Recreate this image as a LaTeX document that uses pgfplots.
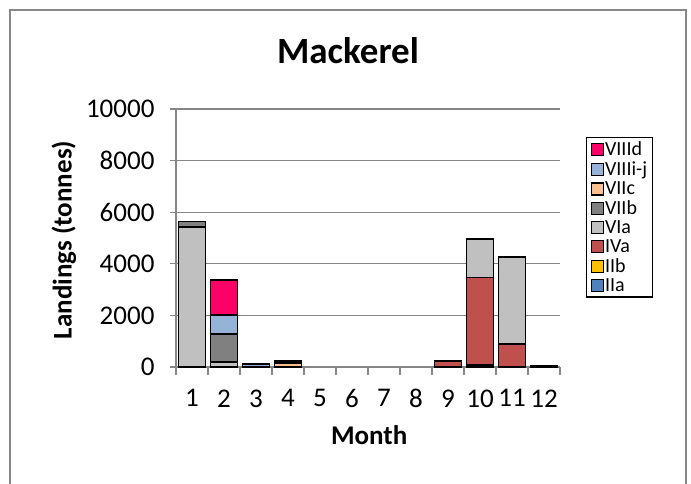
\documentclass[border=0pt]{standalone}
\usepackage{fontspec}
\setmainfont{Carlito}
\usepackage{pgfplots}
\pgfplotsset{compat=1.18}
\definecolor{cIIa}{HTML}{4F81BD}
\definecolor{cIIb}{HTML}{FFC000}
\definecolor{cIVa}{HTML}{C0504D}
\definecolor{cVIa}{HTML}{C0C0C0}
\definecolor{cVIIb}{HTML}{808080}
\definecolor{cVIIc}{HTML}{FAC090}
\definecolor{cVIIIij}{HTML}{95B3D7}
\definecolor{cVIIId}{HTML}{FF0066}
\definecolor{gridgray}{HTML}{868686}
\begin{document}
\begin{tikzpicture}
\path[use as bounding box] (0pt,0pt) rectangle (691pt,-484pt);
\draw[color=gridgray, line width=1.2pt] (10pt,-490pt) -- (10pt,-10pt) -- (686pt,-10pt) -- (686pt,-490pt);
\node[font=\bfseries\fontsize{37}{44}\selectfont, anchor=base] at (348pt,-64pt) {Mackerel};
\begin{axis}[
  at={(176pt,-367pt)}, anchor=south west,
  scale only axis, width=384pt, height=258pt,
  xmin=0.5, xmax=12.5, ymin=0, ymax=10000,
  axis lines*=left,
  axis line style={color=gridgray, line width=1.2pt},
  xtick={1,...,12},
  minor xtick={0.5,1.5,...,12.5},
  major x tick style={draw=none},
  minor x tick style={color=gridgray, line width=1.2pt},
  minor tick length=8pt,
  ytick={0,2000,...,10000},
  y tick style={color=gridgray, line width=1.2pt},
  major tick length=6pt,
  tick align=outside,
  ymajorgrids,
  major grid style={color=gridgray, line width=1.2pt},
  scaled ticks=false,
  /pgf/number format/1000 sep={},
  /pgf/number format/assume math mode=true,
  tick label style={font=\fontsize{27}{32}\selectfont},
  yticklabel style={xshift=-12pt},
  xticklabel style={yshift=-13pt},
  ylabel={\bfseries Landings (tonnes)},
  ylabel style={at={(rel axis cs:-0.2917,0.492)}, anchor=center, font=\fontsize{27}{32}\selectfont},
  xlabel={\bfseries Month},
  xlabel style={at={(rel axis cs:0.503,-0.2636)}, anchor=center, font=\fontsize{27}{32}\selectfont},
  ybar stacked,
  bar width=27pt,
  every axis plot/.append style={draw=black, line width=1.5pt},
  reverse legend,
  legend cell align=left,
  legend style={at={(rel axis cs:1.068,0.891)}, anchor=north west, draw=black, line width=1.2pt,
    font=\fontsize{20}{22}\selectfont, inner xsep=4pt, inner ysep=3pt, row sep=2.2pt,
    nodes={inner sep=1.2pt}},
  legend image code/.code={\draw[#1, line width=1.2pt] (0pt,-6pt) rectangle (12pt,6pt);},
]
% months 5-8 carry no landings
\addplot[fill=cIIa] coordinates {(1,0) (2,0) (3,0) (4,0) (9,0) (10,80) (11,0) (12,0)};
\addplot[fill=cIIb] coordinates {(1,0) (2,0) (3,0) (4,0) (9,0) (10,0) (11,0) (12,0)};
\addplot[fill=cIVa] coordinates {(1,0) (2,0) (3,0) (4,0) (9,240) (10,3380) (11,893) (12,0)};
\addplot[fill=cVIa] coordinates {(1,5430) (2,200) (3,0) (4,0) (9,0) (10,1500) (11,3380) (12,30)};
\addplot[fill=cVIIb] coordinates {(1,200) (2,1070) (3,0) (4,0) (9,0) (10,0) (11,0) (12,0)};
\addplot[fill=cVIIc] coordinates {(1,0) (2,0) (3,0) (4,150) (9,0) (10,0) (11,0) (12,0)};
\addplot[fill=cVIIIij] coordinates {(1,0) (2,740) (3,110) (4,80) (9,0) (10,0) (11,0) (12,0)};
\addplot[fill=cVIIId] coordinates {(1,0) (2,1360) (3,0) (4,0) (9,0) (10,0) (11,0) (12,0)};
\legend{IIa,IIb,IVa,VIa,VIIb,VIIc,VIIIi-j,VIIId}
\end{axis}
\end{tikzpicture}
\end{document}
